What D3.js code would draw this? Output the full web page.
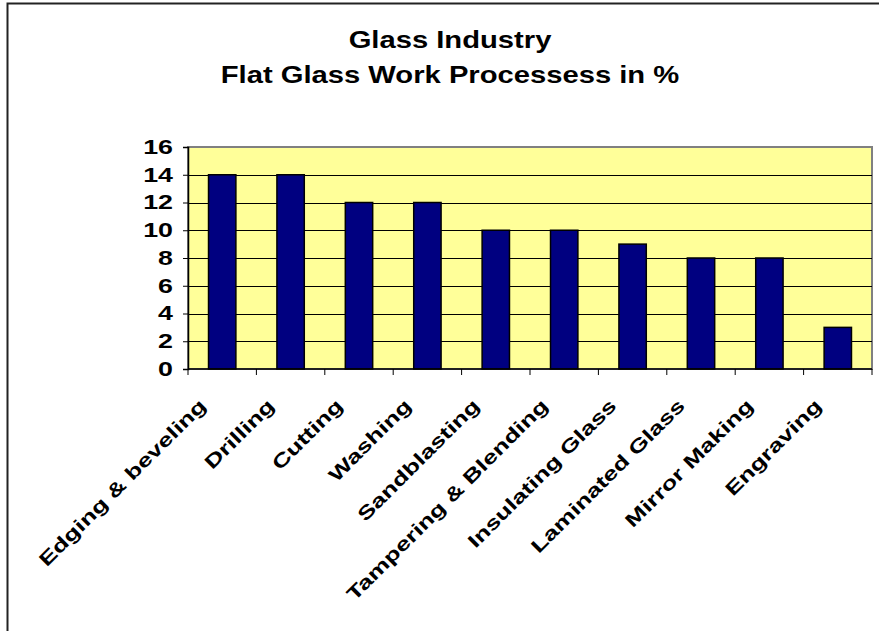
<!DOCTYPE html>
<html>
<head>
<meta charset="utf-8">
<script src="https://cdn.jsdelivr.net/npm/d3@7"></script>
<style>
  html, body { margin: 0; padding: 0; background: #fff; }
  svg { display: block; }
  text { font-family: "Liberation Sans", Arial, sans-serif; font-weight: bold; fill: #000; }
</style>
</head>
<body>
<svg id="chart" width="879" height="631"></svg>
<script>
// Flat glass work processes, share in percent
const categories = ["Edging & beveling", "Drilling", "Cutting", "Washing", "Sandblasting",
  "Tampering & Blending", "Insulating Glass", "Laminated Glass", "Mirror Making", "Engraving"];
const values = [14, 14, 12, 12, 10, 10, 9, 8, 8, 3];
const yTicks = [0, 2, 4, 6, 8, 10, 12, 14, 16];
const titleLines = ["Glass Industry", "Flat Glass Work Processess in %"];

const svg = d3.select("#chart");
const W = 879, H = 631;
const plot = { left: 188, right: 872, top: 147, bottom: 369 };

// outer chart frame
svg.append("path")
  .attr("d", `M7.5,${H} L7.5,3.5 L${W},3.5`)
  .attr("fill", "none").attr("stroke", "#222").attr("stroke-width", 2);

// title (wide bold face)
svg.append("g").selectAll("text").data(titleLines).join("text")
  .attr("transform", (d, i) => `translate(450,${48 + i * 35}) scale(1.27,1)`)
  .attr("text-anchor", "middle")
  .attr("font-size", 23)
  .text(d => d);

const x = d3.scaleBand().domain(categories)
  .range([plot.left, plot.right]).paddingInner(0.6).paddingOuter(0.3);
const y = d3.scaleLinear().domain([0, 16]).range([plot.bottom, plot.top]);

// plot area
svg.append("rect")
  .attr("x", plot.left).attr("y", plot.top)
  .attr("width", plot.right - plot.left).attr("height", plot.bottom - plot.top)
  .attr("fill", "#FFFF99").attr("stroke", "#808080").attr("stroke-width", 2);

// horizontal gridlines
svg.append("g").selectAll("line").data(yTicks.filter(t => t > 0 && t < 16)).join("line")
  .attr("x1", plot.left).attr("x2", plot.right)
  .attr("y1", d => Math.round(y(d)) + 0.5).attr("y2", d => Math.round(y(d)) + 0.5)
  .attr("stroke", "#000").attr("stroke-width", 1);

// bars
svg.append("g").selectAll("rect").data(values).join("rect")
  .attr("x", (d, i) => x(categories[i]))
  .attr("y", d => y(d))
  .attr("width", x.bandwidth())
  .attr("height", d => y(0) - y(d))
  .attr("fill", "#000080").attr("stroke", "#000").attr("stroke-width", 1.5);

// y axis
const yAxis = svg.append("g").attr("transform", `translate(${plot.left},0)`)
  .call(d3.axisLeft(y).tickValues(yTicks).tickSize(5).tickPadding(10).tickFormat(d3.format("d")));
yAxis.select(".domain").attr("stroke", "#000").attr("stroke-width", 1.5);
yAxis.selectAll(".tick line").attr("stroke", "#000");
yAxis.selectAll(".tick text")
  .attr("font-family", "Liberation Sans, Arial, sans-serif")
  .attr("font-weight", "bold").attr("font-size", 20)
  .attr("fill", "#000")
  .attr("text-anchor", "end")
  .each(function () {
    const t = d3.select(this);
    const xx = +t.attr("x");
    t.attr("x", null)
     .attr("transform", `translate(${xx},0) scale(1.34,1)`);
  });

// x axis with ticks at category boundaries
const xAxis = svg.append("g").attr("transform", `translate(0,${plot.bottom})`);
xAxis.append("line").attr("x1", plot.left).attr("x2", plot.right)
  .attr("y1", 0).attr("y2", 0).attr("stroke", "#000").attr("stroke-width", 1.5);
const bounds = categories.map((c, i) => plot.left + i * x.step());
bounds.push(plot.right);
xAxis.selectAll("line.tk").data(bounds).join("line").attr("class", "tk")
  .attr("x1", d => d).attr("x2", d => d).attr("y1", 0).attr("y2", 6)
  .attr("stroke", "#000").attr("stroke-width", 1);

// rotated category labels
svg.append("g").selectAll("text").data(categories).join("text")
  .attr("transform", d => `translate(${x(d) + x.bandwidth() / 2 - 15},${plot.bottom + 38}) rotate(-45) scale(1.37,1)`)
  .attr("text-anchor", "end")
  .attr("font-size", 19)
  .text(d => d);
</script>
</body>
</html>
